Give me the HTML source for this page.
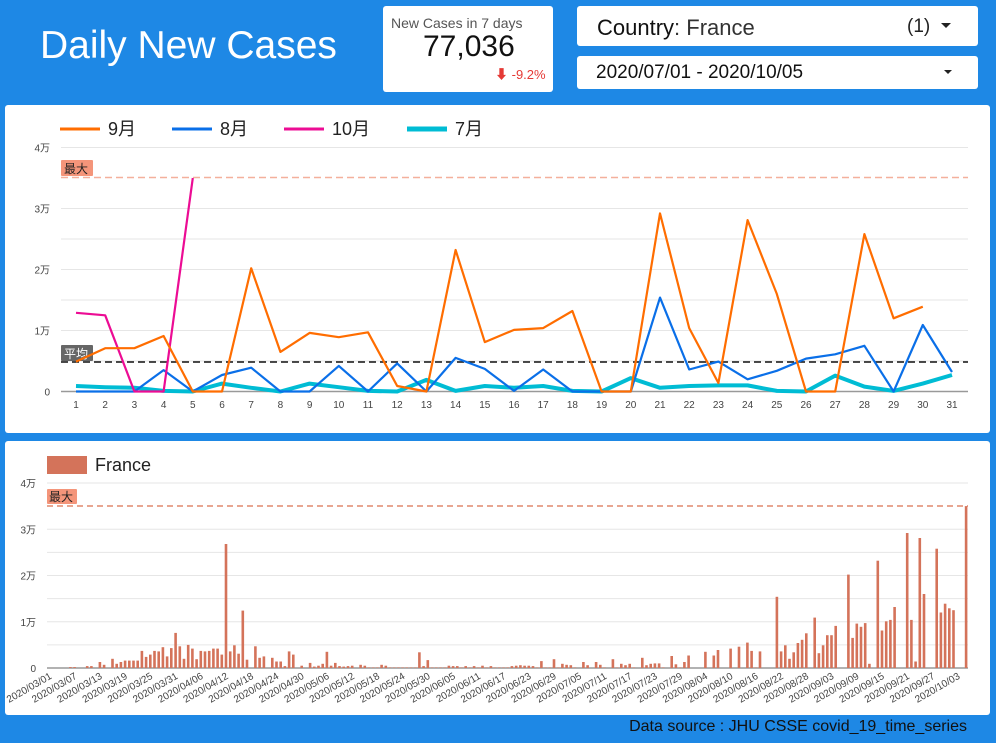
<!DOCTYPE html>
<html><head><meta charset="utf-8">
<style>
body{margin:0;width:996px;height:743px;background:#1e88e5;font-family:"Liberation Sans","Noto Sans CJK JP",sans-serif;position:relative;overflow:hidden}
.abs{position:absolute}
.panel{position:absolute;background:#fff;border-radius:3px}
</style></head><body>
<div class="abs" style="left:40px;top:24px;font-size:39px;color:#fff">Daily New Cases</div>
<div class="panel" style="left:383px;top:6px;width:170px;height:86px">
 <div class="abs" style="left:8px;top:9px;font-size:14px;color:#555">New Cases in 7 days</div>
 <div class="abs" style="left:40px;top:24px;font-size:30px;color:#111">77,036</div>
 <div class="abs" style="left:112px;top:58px;font-size:13px;color:#e53935">&#11015; -9.2%</div>
</div>
<div class="panel" style="left:577px;top:6px;width:401px;height:40px">
 <div class="abs" style="left:20px;top:9px;font-size:22px;color:#111">Country<span style="color:#333">: France</span></div>
 <div class="abs" style="left:330px;top:10px;font-size:19px;color:#222">(1)</div>
 <div class="abs" style="left:364px;top:17px;width:0;height:0;border-left:5px solid transparent;border-right:5px solid transparent;border-top:5px solid #222"></div>
</div>
<div class="panel" style="left:577px;top:56px;width:401px;height:33px">
 <div class="abs" style="left:19px;top:6px;font-size:19px;color:#111">2020/07/01 - 2020/10/05</div>
 <div class="abs" style="left:367px;top:14px;width:0;height:0;border-left:4px solid transparent;border-right:4px solid transparent;border-top:4px solid #222"></div>
</div>
<div class="panel" style="left:5px;top:105px;width:985px;height:328px"></div>
<div class="panel" style="left:5px;top:441px;width:985px;height:274px"></div>
<div class="abs" style="right:29px;top:718px;font-size:16px;color:#111">Data source : JHU CSSE covid_19_time_series</div>
<svg id="s" class="abs" style="left:0;top:0" width="996" height="743" font-family="Liberation Sans, Noto Sans CJK JP, sans-serif"></svg>
<script>
var o='';
function L(x1,y1,x2,y2,c,w,d){o+='<line x1="'+x1+'" y1="'+y1+'" x2="'+x2+'" y2="'+y2+'" stroke="'+c+'" stroke-width="'+w+'"'+(d?' stroke-dasharray="'+d+'"':'')+'/>';}
function T(x,y,t,s,c,a,extra){o+='<text x="'+x+'" y="'+y+'" font-size="'+s+'" fill="'+c+'" text-anchor="'+(a||'start')+'"'+(extra||'')+'>'+t+'</text>';}
var y0=391.5,pk=6.1;
for(var k=0;k<=8;k++){var y=y0-k*30.5;if(k==7)continue;L(61,y,968,y,k==0?'#999':'#e6e6e6',k==0?1.5:1);}
['0','1万','2万','3万','4万'].forEach(function(t,i){T(50,y0-i*61+4,t,10,'#444','end');});
L(61,177.5,968,177.5,'#f4b09c',1.5,'7,4');
o+='<rect x="61" y="160" width="32" height="16" fill="#f4957a" rx="1"/>';T(64,173,'最大',12,'#222');
L(61,362,968,362,'#111',1.5,'7,4');
o+='<rect x="61" y="345" width="32" height="16" fill="#666" rx="1"/>';T(64,358,'平均',12,'#fff');
function X(d){return 76+(d-1)*29.2;}
for(var d=1;d<=31;d++)T(X(d),408,d,10,'#444','middle');
var sep=[4.9,7.1,7.1,9.1,0,0,20.2,6.5,9.6,8.9,9.7,0.9,0,23.2,8.1,10.1,10.4,13.2,0,0,29.2,10.4,1.4,28.1,16.0,0,0,25.8,12.0,13.9];
var aug=[0,0,0,3.5,0,2.7,3.9,0,0,4.2,0,4.6,0,5.5,3.7,0.1,3.6,0,0,0,15.4,3.6,4.9,2.0,3.4,5.4,6.1,7.5,0,10.9,3.2];
var oct=[12.9,12.5,0,0,35];
var jul=[0.9,0.7,0.6,0.1,0,1.3,0.6,0,1.3,0.7,0.1,0,1.9,0.1,0.9,0.6,0.9,0.1,0,2.2,0.6,0.9,1.0,1.0,0.1,0,2.6,0.8,0.1,1.3,2.7];
function P(a,c,w){o+='<polyline fill="none" stroke="'+c+'" stroke-width="'+w+'" stroke-linejoin="round" points="'+a.map(function(v,i){return X(i+1).toFixed(1)+','+(y0-v*pk).toFixed(1);}).join(' ')+'"/>';}
P(jul,'#00bcd4',4);P(aug,'#0a6fe8',2.2);P(oct,'#ec0c94',2.2);P(sep,'#ff6d00',2.2);
[[60,108,'#ff6d00','9月',3],[172,220,'#0a6fe8','8月',3],[284,332,'#ec0c94','10月',3],[407,455,'#00bcd4','7月',5]].forEach(function(l){L(l[0],129,l[0]+40,129,l[2],l[4]);T(l[1],135,l[3],18,'#222');});
var b0=668,bk=4.625;
for(var k=0;k<=8;k++){var y=b0-k*23.125;if(k==7)continue;L(47,y,968,y,k==0?'#999':'#e6e6e6',k==0?1.5:1);}
['0','1万','2万','3万','4万'].forEach(function(t,i){T(36,b0-i*46.25+4,t,10,'#444','end');});
L(47,506,968,506,'#d9714f',1.2,'6,4');
o+='<rect x="47" y="489" width="30" height="15" fill="#f4957a" rx="1"/>';T(49,501,'最大',12,'#222');
o+='<rect x="47" y="456" width="40" height="18" fill="#d4735a"/>';T(95,471,'France',18,'#222');
var vals=new Array(219).fill(0.1);
var mj=[[215,0.2],[228,0.2],[258,0.4],[271,0.4],[298,1.3],[310,0.7],[335,2.0],[348,0.9],[360,1.3],[372,1.6],[385,1.6],[397,1.6],[412,1.6],[425,3.7],[437,2.4],[450,2.9],[462,3.7],[475,3.6],[488,4.5],[500,2.5],[513,4.3],[525,7.6],[538,4.7],[550,2.0],[563,5.0],[575,4.2],[588,1.9],[600,3.7],[613,3.6],[625,3.7],[638,4.2],[650,4.2],[663,2.9],[678,26.8],[690,3.6],[703,4.9],[715,3.1],[728,12.4],[740,1.8],[753,0],[766,4.7],[778,2.2],[790,2.5],[803,0],[816,2.2],[828,1.4],[840,1.4],[853,0.4],[866,3.6],[878,2.9],[890,0],[903,0.5],[916,0],[930,1.1],[943,0.3],[955,0.5],[968,0.9],[980,3.5],[993,0.5],[1005,1.1],[1018,0.4],[1030,0.3],[1043,0.4],[1055,0.5],[1068,0],[1080,0.7],[1093,0.5],[1143,0.7],[1155,0.5],[1255,3.4],[1268,0.4],[1283,1.7],[1345,0.5],[1358,0.4],[1370,0.4],[1395,0.4],[1420,0.4],[1445,0.5],[1470,0.4]];
for(var i=0;i<40;i++)vals[i]=0;
mj.forEach(function(p){var idx=Math.round((p[0]/3-49.4)/4.205);if(idx>=0&&idx<219)vals[idx]=p[1];});
vals[110]=0.4;vals[111]=0.5;vals[112]=0.6;vals[113]=0.5;vals[114]=0.5;vals[115]=0.4;vals[117]=1.5;vals[120]=1.9;
jul.forEach(function(v,i){vals[122+i]=v;});aug.forEach(function(v,i){vals[153+i]=v;});sep.forEach(function(v,i){vals[184+i]=v;});oct.forEach(function(v,i){vals[214+i]=v;});
vals.forEach(function(v,i){if(v<=0)return;var x=49.4+i*4.205,h=v*bk;o+='<rect x="'+(x-1.3).toFixed(1)+'" y="'+(b0-h).toFixed(1)+'" width="2.6" height="'+h.toFixed(1)+'" fill="#d4735a"/>';});
var dt=new Date(Date.UTC(2020,2,1));
for(var i=0;i<219;i+=6){var d=new Date(dt.getTime()+i*86400000);var s=d.getUTCFullYear()+'/'+('0'+(d.getUTCMonth()+1)).slice(-2)+'/'+('0'+d.getUTCDate()).slice(-2);var x=49.4+i*4.205+3;T(x,678,s,10,'#444','end',' transform="rotate(-30 '+x+' 678)"');}
document.getElementById('s').innerHTML=o;
</script>
</body></html>
